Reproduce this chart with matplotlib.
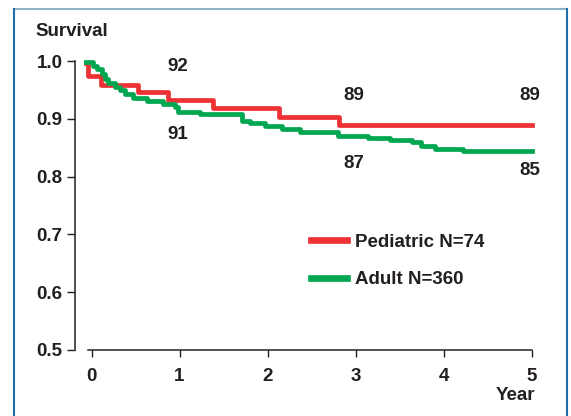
import matplotlib
matplotlib.use("Agg")
import matplotlib.pyplot as plt
from matplotlib.lines import Line2D

plt.rcParams['font.family'] = ['Liberation Sans', 'DejaVu Sans']
plt.rcParams['font.weight'] = 'bold'

# Kaplan-Meier style step data (time in years, survival)
ped_t = [-0.06, -0.04, 0.11, 0.53, 0.87, 1.38, 2.13, 2.81, 5.0]
ped_s = [0.996, 0.974, 0.959, 0.947, 0.932, 0.918, 0.903, 0.889, 0.889]

adult_t = [-0.06, 0.02, 0.06, 0.12, 0.15, 0.19, 0.27, 0.32, 0.38, 0.47, 0.63,
           0.81, 0.95, 0.98, 1.23, 1.71, 1.80, 1.97, 2.16, 2.37, 2.80, 3.14,
           3.39, 3.64, 3.74, 3.90, 4.22, 5.0]
adult_s = [0.998, 0.991, 0.986, 0.977, 0.969, 0.962, 0.955, 0.950, 0.943, 0.936,
           0.931, 0.925, 0.920, 0.912, 0.908, 0.897, 0.893, 0.887, 0.882, 0.877,
           0.870, 0.867, 0.864, 0.859, 0.853, 0.848, 0.845, 0.845]

# percent survival printed at years 1, 3, 5
label_years = [1, 3, 5]
ped_pct = [92, 89, 89]
adult_pct = [91, 87, 85]
ped_label_y = [0.99, 0.94, 0.94]
adult_label_y = [0.872, 0.823, 0.811]

red = '#ee3135'
green = '#00a650'
dark = '#231f20'

fig = plt.figure(figsize=(5.71, 4.16), dpi=100)
ax = fig.add_axes([75/571, 66/416, 456.7/571, 289/416])

ax.step(ped_t, ped_s, where='post', color=red, lw=3.4, clip_on=False, zorder=3)
ax.step(adult_t, adult_s, where='post', color=green, lw=3.4, clip_on=False, zorder=4)

for yr, p, yy in zip(label_years, ped_pct, ped_label_y):
    ax.text(yr - 0.02, yy, str(p), ha='center', va='center', fontsize=13.5, color=dark)
for yr, p, yy in zip(label_years, adult_pct, adult_label_y):
    ax.text(yr - 0.02, yy, str(p), ha='center', va='center', fontsize=13.5, color=dark)

ax.set_xlim(-0.1875, 5.0)
ax.set_ylim(0.5, 1.0)
ax.set_xticks([0, 1, 2, 3, 4, 5])
ax.set_yticks([0.5, 0.6, 0.7, 0.8, 0.9, 1.0])
ax.set_yticklabels(['0.5', '0.6', '0.7', '0.8', '0.9', '1.0'])

for side in ['top', 'right']:
    ax.spines[side].set_visible(False)
for side in ['left', 'bottom']:
    ax.spines[side].set_color(dark)
    ax.spines[side].set_linewidth(1.1)
ax.spines['bottom'].set_bounds(-0.04, 5.0)
ax.patch.set_visible(False)

ax.tick_params(axis='y', direction='out', length=6, width=1, color=dark,
               labelsize=13.5, labelcolor=dark, pad=3)
ax.tick_params(axis='x', direction='out', length=5, width=1, color=dark,
               labelsize=13.5, labelcolor=dark, pad=8)

handles = [Line2D([], [], color=red, lw=4.8), Line2D([], [], color=green, lw=4.8)]
leg = ax.legend(handles, ['Pediatric N=74', 'Adult N=360'], loc='center left',
                bbox_to_anchor=(310.7/571, 1 - 261/416), bbox_transform=fig.transFigure,
                frameon=False, borderpad=0, borderaxespad=0, handlelength=1.95,
                handletextpad=0.4, labelspacing=1.07, fontsize=13.5)
for t in leg.get_texts():
    t.set_color(dark)

fig.text(35/571, 1 - 32/416, 'Survival', ha='left', va='center', fontsize=13.5, color=dark)
fig.text(535/571, 1 - 396/416, 'Year', ha='right', va='center', fontsize=13.5, color=dark)

# page frame around the figure
fig.add_artist(Line2D([14/571, 567/571], [1 - 9/416, 1 - 9/416], transform=fig.transFigure,
                      color='#8fb1c9', lw=1.5))
fig.add_artist(Line2D([14/571, 14/571], [0, 1 - 9/416], transform=fig.transFigure,
                      color='#1f6ea5', lw=1.5))
fig.add_artist(Line2D([567/571, 567/571], [0, 1 - 9/416], transform=fig.transFigure,
                      color='#1f6ea5', lw=1.5))

fig.savefig('out.png', dpi=100)
